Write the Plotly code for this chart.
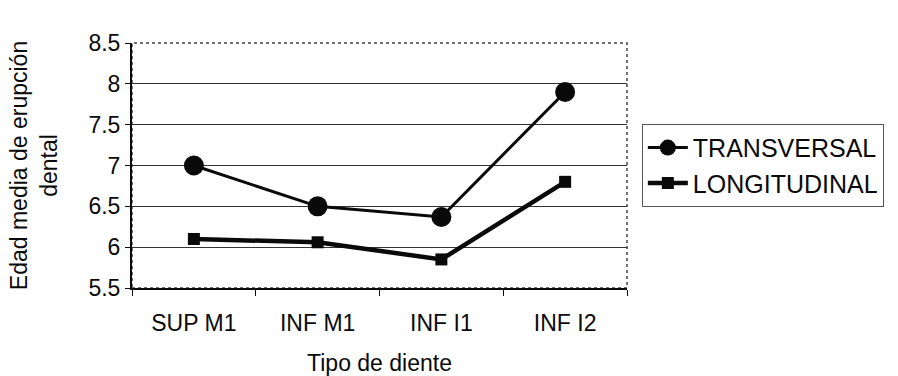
import plotly.graph_objects as go

categories = ["SUP M1", "INF M1", "INF I1", "INF I2"]
transversal = [7.0, 6.5, 6.37, 7.9]
longitudinal = [6.1, 6.06, 5.85, 6.8]
y_ticks = [5.5, 6, 6.5, 7, 7.5, 8, 8.5]
y_tick_labels = ["5.5", "6", "6.5", "7", "7.5", "8", "8.5"]

FONT = "Liberation Sans, Arial, sans-serif"
INK = "#0a0a0a"

fig = go.Figure()
fig.add_trace(go.Scatter(
    x=categories, y=transversal, name="TRANSVERSAL", mode="lines+markers",
    legendgroup="t",
    line=dict(color=INK, width=3),
    marker=dict(symbol="circle", size=20, color=INK),
))
fig.add_trace(go.Scatter(
    x=categories, y=longitudinal, name="LONGITUDINAL", mode="lines+markers",
    legendgroup="l",
    line=dict(color=INK, width=4.5),
    marker=dict(symbol="square", size=12, color=INK),
))

fig.update_layout(
    width=898, height=376,
    margin=dict(l=132, r=271, t=43, b=88),
    paper_bgcolor="white", plot_bgcolor="white",
    font=dict(family=FONT, size=23, color=INK),
    showlegend=True,
    legend=dict(
        x=1.03, xanchor="left", y=0.67, yanchor="top",
        bordercolor="#555555", borderwidth=1,
        font=dict(family=FONT, size=25, color=INK),
        itemwidth=40, tracegroupgap=0,
    ),
    xaxis=dict(
        type="category", range=[-0.5, 3.5], automargin=False,
        showline=True, linecolor=INK, linewidth=2, mirror=False,
        ticks="outside", tickson="boundaries", ticklen=6, tickcolor=INK,
        ticklabelstandoff=13,
        showgrid=False,
        title=dict(text="Tipo de diente", standoff=20,
                   font=dict(family=FONT, size=23)),
        tickfont=dict(family=FONT, size=23),
    ),
    yaxis=dict(
        range=[5.5, 8.5], tickvals=y_ticks, ticktext=y_tick_labels, automargin=False,
        showline=True, linecolor=INK, linewidth=2,
        ticks="outside", ticklen=5, tickcolor=INK,
        showgrid=True, gridcolor="#333333", gridwidth=1.2,
        zeroline=False,
        title=dict(text="Edad media de erupción<br>dental", standoff=24,
                   font=dict(family=FONT, size=23)),
        tickfont=dict(family=FONT, size=23),
    ),
)

fig.add_shape(type="rect", xref="paper", yref="paper", x0=0, y0=0, x1=1, y1=1,
              line=dict(color="#444444", width=1.5, dash="dot"), layer="below")

fig.write_html("out.html")
